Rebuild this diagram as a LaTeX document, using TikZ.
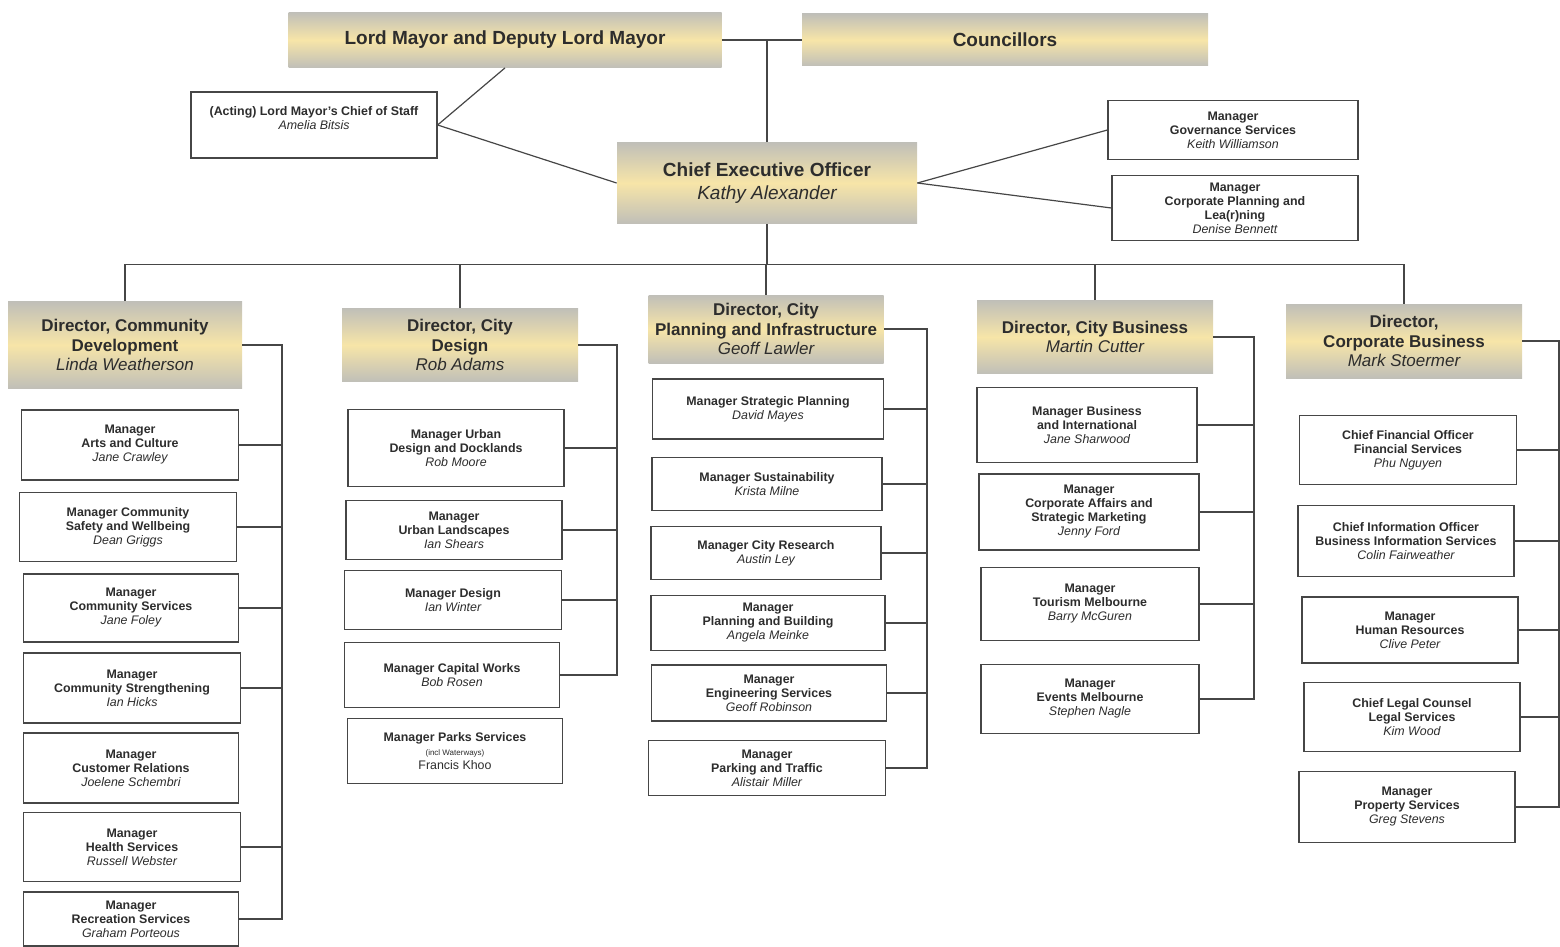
\documentclass[tikz,border=0pt]{standalone}
\usepackage{fontspec}
\setmainfont{Liberation Sans}
\definecolor{goldgray}{RGB}{192,191,184}
\definecolor{gold}{RGB}{247,229,168}
\definecolor{ink}{RGB}{45,45,45}
\definecolor{wire}{RGB}{70,70,70}
\newcommand{\pname}[1]{{\mdseries\itshape #1}}

\tikzstyle{leader} = [rectangle, top color=goldgray, bottom color=goldgray, middle color=gold, align=center, inner sep=0pt, text=ink, font=\fontsize{8.5}{9.75}\selectfont\bfseries]
\tikzstyle{unit} = [rectangle, draw=wire, line width=0.6pt, fill=white, align=center, inner sep=0pt, text=ink, font=\fontsize{6.2}{7}\selectfont\bfseries]
\tikzstyle{link} = [draw=wire, line width=0.6pt]

\begin{document}
\begin{tikzpicture}[x=0.5pt, y=-0.5pt]
        \tikzset{wh/.style 2 args={minimum width=#1*0.5pt, minimum height=#2*0.5pt}}
        \useasboundingbox (0,0) rectangle (1560,947);
        % Council and CEO
        \node (lm) at (505,40) [leader, wh={433}{55}, font=\fontsize{9.5}{11}\selectfont\bfseries] {Lord Mayor and Deputy Lord Mayor};
        \node (cl) at (1005,40) [leader, wh={406}{52}, font=\fontsize{9.5}{11}\selectfont\bfseries] {Councillors};
        \node (cos) at (314,125) [unit, wh={246}{66}, text depth=7pt] {(Acting) Lord Mayor's Chief of Staff\\ \pname{Amelia Bitsis}};
        \node (ceo) at (767,183) [leader, wh={300}{81}, font=\fontsize{9.5}{11.5}\selectfont\bfseries] {Chief Executive Officer\\ \pname{Kathy Alexander}};
        \node (gov) at (1233,130) [unit, wh={250}{59}] {Manager\\ Governance Services\\ \pname{Keith Williamson}};
        \node (cpl) at (1235,208) [unit, wh={246}{65}] {Manager\\ Corporate Planning and\\ Lea(r)ning\\ \pname{Denise Bennett}};

        % Directors
        \node (d1) at (125,345) [leader, wh={234}{87}] {Director, Community\\ Development\\ \pname{Linda Weatherson}};
        \node (d2) at (460,345) [leader, wh={236}{73}] {Director, City\\ Design\\ \pname{Rob Adams}};
        \node (d3) at (766,329) [leader, wh={235}{68}] {Director, City\\ Planning and Infrastructure\\ \pname{Geoff Lawler}};
        \node (d4) at (1095,337) [leader, wh={236}{73}] {Director, City Business\\ \pname{Martin Cutter}};
        \node (d5) at (1404,341) [leader, wh={236}{74}] {Director,\\ Corporate Business\\ \pname{Mark Stoermer}};

        % Community Development
        \node (m11) at (130,445) [unit, wh={217}{70}] {Manager\\ Arts and Culture\\ \pname{Jane Crawley}};
        \node (m12) at (128,527) [unit, wh={217}{69}] {Manager Community\\ Safety and Wellbeing\\ \pname{Dean Griggs}};
        \node (m13) at (131,608) [unit, wh={215}{68}] {Manager\\ Community Services\\ \pname{Jane Foley}};
        \node (m14) at (132,688) [unit, wh={217}{70}] {Manager\\ Community Strengthening\\ \pname{Ian Hicks}};
        \node (m15) at (131,768) [unit, wh={215}{70}] {Manager\\ Customer Relations\\ \pname{Joelene Schembri}};
        \node (m16) at (132,847) [unit, wh={217}{69}] {Manager\\ Health Services\\ \pname{Russell Webster}};
        \node (m17) at (131,919) [unit, wh={215}{54}] {Manager\\ Recreation Services\\ \pname{Graham Porteous}};

        % City Design
        \node (m21) at (456,448) [unit, wh={216}{77}] {Manager Urban\\ Design and Docklands\\ \pname{Rob Moore}};
        \node (m22) at (454,530) [unit, wh={216}{59}] {Manager\\ Urban Landscapes\\ \pname{Ian Shears}};
        \node (m23) at (453,600) [unit, wh={217}{59}] {Manager Design\\ \pname{Ian Winter}};
        \node (m24) at (452,675) [unit, wh={215}{65}] {Manager Capital Works\\ \pname{Bob Rosen}};
        \node (m25) at (455,751) [unit, wh={215}{65}] {Manager Parks Services\\ {\mdseries\fontsize{4}{5}\selectfont (incl Waterways)}\\ {\mdseries Francis Khoo}};

        % City Planning and Infrastructure
        \node (m31) at (768,409) [unit, wh={231}{60}] {Manager Strategic Planning\\ \pname{David Mayes}};
        \node (m32) at (767,484) [unit, wh={230}{53}] {Manager Sustainability\\ \pname{Krista Milne}};
        \node (m33) at (766,553) [unit, wh={230}{53}] {Manager City Research\\ \pname{Austin Ley}};
        \node (m34) at (768,623) [unit, wh={234}{55}] {Manager\\ Planning and Building\\ \pname{Angela Meinke}};
        \node (m35) at (769,693) [unit, wh={235}{56}] {Manager\\ Engineering Services\\ \pname{Geoff Robinson}};
        \node (m36) at (767,768) [unit, wh={237}{55}] {Manager\\ Parking and Traffic\\ \pname{Alistair Miller}};

        % City Business
        \node (m41) at (1087,425) [unit, wh={220}{75}] {Manager Business\\ and International\\ \pname{Jane Sharwood}};
        \node (m42) at (1089,512) [unit, wh={220}{76}] {Manager\\ Corporate Affairs and\\ Strategic Marketing\\ \pname{Jenny Ford}};
        \node (m43) at (1090,604) [unit, wh={218}{73}] {Manager\\ Tourism Melbourne\\ \pname{Barry McGuren}};
        \node (m44) at (1090,699) [unit, wh={218}{69}] {Manager\\ Events Melbourne\\ \pname{Stephen Nagle}};

        % Corporate Business
        \node (m51) at (1408,450) [unit, wh={217}{69}] {Chief Financial Officer\\ Financial Services\\ \pname{Phu Nguyen}};
        \node (m52) at (1406,541) [unit, wh={216}{71}] {Chief Information Officer\\ Business Information Services\\ \pname{Colin Fairweather}};
        \node (m53) at (1410,630) [unit, wh={216}{66}] {Manager\\ Human Resources\\ \pname{Clive Peter}};
        \node (m54) at (1412,717) [unit, wh={216}{69}] {Chief Legal Counsel\\ Legal Services\\ \pname{Kim Wood}};
        \node (m55) at (1407,807) [unit, wh={216}{71}] {Manager\\ Property Services\\ \pname{Greg Stevens}};

        % links at the top
        \draw[link] (lm.east) -- (cl.west);
        \draw[link] (ceo.north) -- (ceo.north |- lm.east);
        \draw[link] (cos.east) -- (lm.south);
        \draw[link] (cos.east) -- (ceo.west);
        \draw[link] (ceo.east) -- (gov.west);
        \draw[link] (ceo.east) -- (cpl.west);
        \draw[link] (ceo.south) -- ++(0,41) coordinate (bus);
        \draw[link] (d1.north) -- (d1.north |- bus) -- (d5.north |- bus) -- (d5.north);
        \foreach \d in {d2,d3,d4}
            \draw[link] (\d.north) -- (\d.north |- bus);

        % links to the managers
        \coordinate (v1) at (282,0);
        \coordinate (v2) at (617,0);
        \coordinate (v3) at (927,0);
        \coordinate (v4) at (1254,0);
        \coordinate (v5) at (1559,0);
        \draw[link] (d1.east) -| (v1 |- m17.east) -- (m17.east);
        \draw[link] (d2.east) -| (v2 |- m24.east) -- (m24.east);
        \draw[link] (d3.east) -| (v3 |- m36.east) -- (m36.east);
        \draw[link] (d4.east) -| (v4 |- m44.east) -- (m44.east);
        \draw[link] (d5.east) -| (v5 |- m55.east) -- (m55.east);
        \foreach \m in {m11,m12,m13,m14,m16}
            \draw[link] (\m.east) -- (\m.east -| v1);
        \foreach \m in {m21,m22,m23}
            \draw[link] (\m.east) -- (\m.east -| v2);
        \foreach \m in {m31,m32,m33,m34,m35}
            \draw[link] (\m.east) -- (\m.east -| v3);
        \foreach \m in {m41,m42,m43}
            \draw[link] (\m.east) -- (\m.east -| v4);
        \foreach \m in {m51,m52,m53,m54}
            \draw[link] (\m.east) -- (\m.east -| v5);
\end{tikzpicture}
\end{document}
